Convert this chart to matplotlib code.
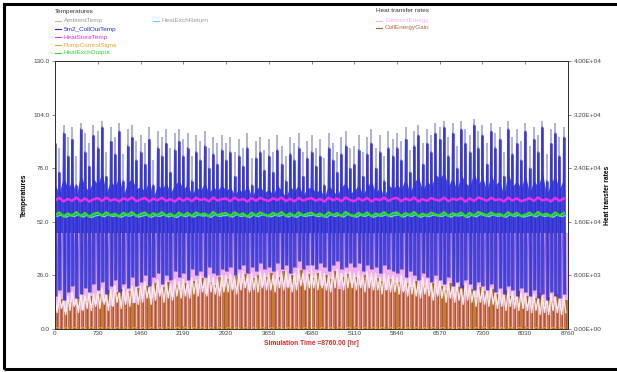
"""TRNSYS online plotter - annual solar water heater run"""
import numpy as np
import matplotlib
matplotlib.use("Agg")
import matplotlib.pyplot as plt
from matplotlib.lines import Line2D
from matplotlib.patches import Rectangle
from matplotlib.ticker import FuncFormatter

plt.rcParams["font.family"] = ["Liberation Sans", "DejaVu Sans"]

# one sample every 73 hours (120 samples over the year)
N_SAMPLES = 120
STEP_HR = 73.0

# 5m2_CollOutTemp: daily peaks (dark), light overshoot tops, night lows,
# and the top of the solid band while the pump runs [C]
coll_peak = [
    90, 76, 95, 84, 92, 70, 97, 86, 79, 94,
    88, 98, 74, 91, 85, 96, 72, 89, 93, 82,
    86, 80, 92, 70, 88, 84, 90, 76, 87, 91,
    84, 88, 72, 86, 82, 89, 78, 85, 80, 87,
    82, 86, 74, 84, 79, 88, 70, 83, 86, 77,
    84, 76, 87, 80, 72, 85, 82, 88, 74, 83,
    86, 79, 84, 70, 88, 82, 76, 85, 89, 78,
    80, 87, 74, 85, 90, 78, 86, 72, 88, 84,
    88, 82, 92, 76, 89, 94, 80, 90, 86, 95,
    92, 98, 84, 95, 78, 97, 90, 86, 99, 88,
    94, 80, 96, 88, 92, 74, 97, 85, 90, 82,
    96, 78, 92, 86, 98, 72, 90, 95, 84, 93,
]
coll_top = [
    97, 88, 99, 93, 98, 84, 100, 95, 90, 99,
    96, 101, 86, 98, 93, 100, 85, 97, 99, 91,
    94, 90, 98, 82, 96, 93, 97, 88, 95, 97,
    92, 95, 84, 94, 91, 96, 88, 93, 90, 94,
    90, 93, 86, 92, 88, 95, 83, 91, 93, 87,
    92, 86, 94, 89, 84, 93, 90, 95, 86, 91,
    94, 88, 92, 83, 95, 90, 86, 93, 96, 88,
    89, 94, 86, 93, 97, 88, 94, 84, 96, 92,
    95, 91, 98, 87, 96, 99, 90, 97, 94, 100,
    98, 101, 93, 100, 89, 101, 97, 94, 102, 96,
    99, 90, 100, 95, 98, 86, 101, 93, 97, 91,
    100, 89, 98, 94, 101, 85, 97, 100, 93, 98,
]
coll_low = [
    16, 19, 14, 18, 21, 15, 17, 20, 18, 22,
    19, 23, 17, 21, 24, 18, 22, 20, 25, 21,
    23, 26, 21, 25, 27, 22, 26, 24, 28, 25,
    27, 24, 29, 26, 28, 25, 30, 27, 26, 29,
    28, 30, 26, 29, 31, 27, 30, 28, 32, 29,
    30, 28, 32, 29, 31, 27, 30, 33, 29, 31,
    31, 29, 32, 30, 28, 31, 33, 29, 30, 32,
    30, 32, 28, 31, 29, 30, 27, 31, 29, 28,
    27, 29, 25, 28, 26, 24, 27, 25, 23, 26,
    24, 22, 25, 21, 23, 20, 24, 22, 19, 23,
    21, 19, 22, 18, 20, 17, 21, 19, 16, 20,
    18, 16, 19, 15, 17, 14, 18, 16, 15, 17,
]
coll_band_top = [
    70, 66, 74, 68, 72, 65, 75, 69, 67, 73,
    70, 76, 66, 72, 69, 74, 65, 71, 73, 68,
    69, 67, 72, 64, 70, 68, 71, 66, 70, 72,
    68, 70, 65, 69, 67, 71, 66, 69, 67, 70,
    67, 69, 65, 68, 66, 70, 64, 68, 69, 66,
    68, 65, 70, 67, 64, 69, 67, 70, 65, 68,
    69, 66, 68, 64, 70, 67, 65, 69, 71, 66,
    67, 70, 65, 69, 72, 66, 69, 64, 70, 68,
    70, 68, 73, 66, 71, 74, 67, 72, 69, 75,
    73, 76, 69, 74, 67, 75, 71, 69, 76, 70,
    74, 67, 75, 70, 72, 65, 76, 69, 72, 68,
    75, 66, 72, 69, 76, 65, 71, 74, 68, 73,
]

# AmbientTemp: daytime highs and night lows [C]
amb_high = [
    15, 17, 14, 16, 18, 15, 17, 16, 18, 17,
    18, 20, 17, 19, 21, 18, 20, 19, 21, 20,
    21, 23, 20, 22, 24, 21, 23, 22, 24, 23,
    24, 23, 25, 24, 26, 24, 26, 25, 24, 26,
    26, 27, 25, 27, 28, 26, 27, 26, 28, 27,
    27, 26, 28, 27, 28, 26, 27, 29, 27, 28,
    28, 27, 28, 27, 26, 28, 29, 27, 28, 28,
    27, 28, 26, 28, 27, 27, 25, 27, 26, 26,
    25, 26, 24, 25, 24, 23, 25, 24, 22, 24,
    23, 21, 23, 21, 22, 20, 22, 21, 19, 21,
    20, 19, 20, 18, 19, 17, 19, 18, 17, 18,
    17, 16, 17, 15, 16, 15, 17, 16, 15, 16,
]
amb_low = [
    8, 10, 7, 9, 11, 8, 9, 10, 9, 11,
    10, 12, 9, 11, 13, 10, 12, 11, 13, 12,
    13, 15, 12, 14, 16, 13, 15, 14, 16, 15,
    16, 15, 17, 16, 18, 16, 18, 17, 16, 18,
    18, 19, 17, 19, 20, 18, 19, 18, 20, 19,
    19, 18, 20, 19, 20, 18, 19, 21, 19, 20,
    20, 19, 20, 19, 18, 20, 21, 19, 20, 20,
    19, 20, 18, 20, 19, 19, 17, 19, 18, 18,
    17, 18, 16, 17, 16, 15, 17, 16, 14, 16,
    15, 13, 15, 13, 14, 12, 14, 13, 11, 13,
    12, 11, 12, 10, 11, 9, 11, 10, 9, 10,
    9, 8, 9, 7, 8, 7, 9, 8, 7, 8,
]

# HeatStoreTemp / HeatExchOutput / HeatExchReturn [C]
store_temp = [
    62.4, 63.6, 61.9, 63.1, 62.2, 63.8, 62.0, 63.3, 61.8, 62.9,
    63.5, 62.1, 63.7, 62.3, 63.0, 61.9, 63.4, 62.5, 63.8, 62.0,
    62.8, 63.6, 61.9, 63.2, 62.4, 63.7, 62.1, 63.0, 61.8, 63.5,
    62.2, 63.4, 62.0, 63.6, 62.6, 63.1, 61.9, 63.8, 62.3, 63.0,
    63.3, 62.0, 63.7, 62.4, 63.1, 61.8, 63.5, 62.2, 63.6, 62.7,
    62.1, 63.4, 62.5, 63.8, 62.0, 63.2, 61.9, 63.6, 62.3, 63.0,
    63.5, 62.2, 63.1, 61.8, 63.7, 62.4, 63.3, 62.0, 63.8, 62.6,
    62.0, 63.4, 62.3, 63.6, 61.9, 63.1, 62.5, 63.7, 62.1, 63.2,
    63.6, 62.0, 63.3, 62.4, 63.8, 61.9, 63.0, 62.2, 63.5, 62.7,
    62.3, 63.7, 62.0, 63.2, 62.6, 63.5, 61.8, 63.4, 62.1, 63.8,
    63.1, 62.2, 63.6, 62.5, 63.0, 61.9, 63.7, 62.3, 63.4, 62.0,
    62.6, 63.5, 62.1, 63.8, 62.4, 63.0, 61.9, 63.6, 62.2, 63.3,
]
hx_output = [
    55.2, 56.5, 54.6, 56.0, 55.0, 56.7, 54.8, 56.2, 54.5, 55.8,
    56.4, 54.9, 56.6, 55.1, 55.9, 54.6, 56.3, 55.3, 56.7, 54.8,
    55.7, 56.5, 54.7, 56.1, 55.2, 56.6, 54.9, 55.9, 54.5, 56.4,
    55.0, 56.3, 54.8, 56.5, 55.4, 56.0, 54.7, 56.7, 55.1, 55.9,
    56.2, 54.8, 56.6, 55.2, 56.0, 54.5, 56.4, 55.0, 56.5, 55.5,
    54.9, 56.3, 55.3, 56.7, 54.8, 56.1, 54.7, 56.5, 55.1, 55.9,
    56.4, 55.0, 56.0, 54.6, 56.6, 55.2, 56.2, 54.8, 56.7, 55.4,
    54.8, 56.3, 55.1, 56.5, 54.7, 56.0, 55.3, 56.6, 54.9, 56.1,
    56.5, 54.8, 56.2, 55.2, 56.7, 54.7, 55.9, 55.0, 56.4, 55.5,
    55.1, 56.6, 54.8, 56.1, 55.4, 56.4, 54.6, 56.3, 54.9, 56.7,
    56.0, 55.0, 56.5, 55.3, 55.9, 54.7, 56.6, 55.1, 56.3, 54.8,
    55.4, 56.4, 54.9, 56.7, 55.2, 55.9, 54.7, 56.5, 55.0, 56.2,
]
hx_return = [
    54.6, 55.4, 54.2, 55.1, 54.5, 55.6, 54.3, 55.2, 54.1, 54.9,
    55.3, 54.4, 55.5, 54.6, 55.0, 54.2, 55.2, 54.7, 55.6, 54.3,
    54.8, 55.4, 54.2, 55.1, 54.6, 55.5, 54.4, 55.0, 54.1, 55.3,
    54.5, 55.2, 54.3, 55.4, 54.8, 55.0, 54.2, 55.6, 54.6, 55.0,
    55.1, 54.3, 55.5, 54.6, 55.0, 54.1, 55.3, 54.5, 55.4, 54.9,
    54.4, 55.2, 54.7, 55.6, 54.3, 55.1, 54.2, 55.4, 54.6, 55.0,
    55.3, 54.5, 55.0, 54.1, 55.5, 54.6, 55.2, 54.3, 55.6, 54.8,
    54.3, 55.2, 54.6, 55.4, 54.2, 55.0, 54.7, 55.5, 54.4, 55.1,
    55.4, 54.3, 55.2, 54.6, 55.6, 54.2, 55.0, 54.5, 55.3, 54.9,
    54.6, 55.5, 54.3, 55.1, 54.8, 55.3, 54.1, 55.2, 54.4, 55.6,
    55.0, 54.5, 55.4, 54.7, 55.0, 54.2, 55.5, 54.6, 55.2, 54.3,
    54.8, 55.3, 54.4, 55.6, 54.6, 55.0, 54.2, 55.4, 54.5, 55.1,
]

# PumpControlSignal (0/1)
pump_signal = [1, 0] * 60

# ElementEnergy [kJ/hr] - heating element (4 kW) is on for almost every sample
element_energy = [14400] * 120

# CollEnergyGain daily peaks [kJ/hr]
coll_gain = [
    3200, 4500, 2600, 4000, 3600, 4800, 2900, 4200, 5000, 3800,
    5200, 4000, 5800, 3500, 5500, 6000, 4400, 5600, 3900, 6100,
    5000, 6400, 4600, 6800, 5400, 6200, 7000, 4800, 6600, 5800,
    6900, 5600, 7200, 6000, 7600, 5200, 7000, 6600, 7800, 6200,
    7400, 6000, 7900, 6800, 8200, 5800, 7600, 8000, 6400, 7800,
    8400, 6600, 7800, 8600, 6200, 8000, 7200, 8800, 6800, 8200,
    7600, 8400, 6400, 8000, 7400, 8600, 6000, 7800, 8200, 6800,
    7800, 6600, 8000, 7000, 6200, 7600, 7200, 5800, 7400, 6800,
    7000, 5600, 6800, 6200, 7200, 5400, 6600, 6000, 6800, 5200,
    6400, 5800, 6800, 5000, 6200, 6600, 5400, 6000, 4800, 6200,
    5600, 4600, 6000, 5200, 4200, 5800, 5000, 4400, 5600, 4000,
    5000, 3800, 4600, 5400, 3600, 4800, 4200, 5200, 3400, 4400,
]

x_ticks = list(range(0, 8761, 730))
temp_ticks = [0, 26, 52, 78, 104, 130]
rate_ticks = [0, 8000, 16000, 24000, 32000, 40000]
TEMP_MAX, RATE_MAX = 130, 40000

C_AMB = "#e8a892"
C_COLL = "#2a2ad4"
C_STORE = "#e830e8"
C_PUMP = "#f0a030"
C_HXO = "#30d830"
C_HXR = "#60d8d8"
C_ELEM = "#f2b0f2"
C_GAIN = "#c47a40"

t = np.arange(N_SAMPLES) * STEP_HR
t_half = t + STEP_HR / 2


def zigzag(hi, lo):
    """peak at sample start, low half a step later"""
    x = np.empty(2 * N_SAMPLES)
    y = np.empty(2 * N_SAMPLES)
    x[0::2], x[1::2] = t, t_half
    y[0::2], y[1::2] = hi, lo
    return x, y


fig = plt.figure(figsize=(6.17, 3.72), dpi=100)
ax = fig.add_axes([55 / 617, 1 - 329 / 372, 513 / 617, 268 / 372])
ax2 = ax.twinx()
ax.set_zorder(ax2.get_zorder() + 1)
ax.patch.set_visible(False)

# --- heat transfer rates (drawn underneath) ---
ax2.bar(t, element_energy, width=STEP_HR, align="edge", color=C_ELEM, linewidth=0)
ax2.bar(t + 0.1 * STEP_HR, coll_gain, width=0.8 * STEP_HR, align="edge",
        color=C_GAIN, linewidth=0)
ax2.vlines(t + 0.5 * STEP_HR, 0, coll_gain, color="#a84a22", lw=0.5)
ax2.set_ylim(0, RATE_MAX)

# --- temperatures ---
ax.step(t, pump_signal, where="post", color=C_PUMP, lw=0.6)
ax.plot(*zigzag(amb_high, amb_low), color="#fbeee8", lw=1.0)

# collector outlet: solid band while pumping sits right on top of the element bars
elem_as_temp = np.array(element_energy) * TEMP_MAX / RATE_MAX
ax.fill_between(t, elem_as_temp, coll_band_top, color=C_COLL, alpha=0.85, linewidth=0)
ax.vlines(t, coll_low, coll_top, color="#aeb2da", lw=1.4)
ax.vlines(t, coll_low, coll_peak, color=C_COLL, lw=2.0, alpha=0.8)
ax.plot(*zigzag(coll_peak, coll_low), color=C_COLL, lw=1.0, alpha=0.55)

ax.plot(t, store_temp, color=C_STORE, lw=1.8)
ax.plot(t_half, hx_return, color=C_HXR, lw=1.0)
ax.plot(t, hx_output, color=C_HXO, lw=1.8)
ax.set_xlim(0, 8760)
ax.set_ylim(0, TEMP_MAX)

ax.set_xticks(x_ticks)
ax.set_yticks(temp_ticks)
ax.yaxis.set_major_formatter(FuncFormatter(lambda v, p: f"{v:.1f}"))
ax2.set_yticks(rate_ticks)
ax2.yaxis.set_major_formatter(FuncFormatter(lambda v, p: f"{v:.2E}"))
for a in (ax, ax2):
    a.tick_params(labelsize=4.6, length=2.5, width=0.5, colors="#555555",
                  labelcolor="#444444", pad=1.5)
    for s in a.spines.values():
        s.set_linewidth(0.7)
        s.set_color("#333333")
ax.tick_params(axis="x", top=True, direction="in")

ax.set_ylabel("Temperatures", fontsize=4.8, fontweight="bold", labelpad=4)
ax2.set_ylabel("Heat transfer rates", fontsize=4.8, fontweight="bold", labelpad=2)
ax.set_xlabel("Simulation Time =8760.00 [hr]", fontsize=4.8, fontweight="bold",
              color="#e02828", labelpad=3)

# --- legends (plotter style, above the plot) ---
def legend_entry(x, y, color, label, text_color=None):
    fig.add_artist(Line2D([x / 617, (x + 6) / 617], [1 - y / 372] * 2,
                          color=color, lw=0.8, transform=fig.transFigure))
    fig.text((x + 9) / 617, 1 - y / 372, label, fontsize=4.6, va="center",
             color=text_color or color)


fig.text(55 / 617, 1 - 11 / 372, "Temperatures", fontsize=4.6, va="center", color="#333333")
legend_entry(55, 20.5, C_AMB, "AmbientTemp", "#9a9a9a")
legend_entry(55, 29, C_COLL, "5m2_CollOutTemp")
legend_entry(55, 37, C_STORE, "HeatStoreTemp")
legend_entry(55, 45, C_PUMP, "PumpControlSigna")
legend_entry(55, 52.5, C_HXO, "HeatExchOutput")
legend_entry(153, 20.5, C_HXR, "HeatExchReturn", "#9a9a9a")

fig.text(376 / 617, 1 - 11 / 372, "Heat transfer rates", fontsize=4.6, va="center", color="#333333")
legend_entry(376, 20.5, C_ELEM, "ElementEnergy")
legend_entry(376, 28, "#a8602c", "CollEnergyGain", "#b06838")

# outer frame of the plotter window
fig.add_artist(Rectangle((4 / 617, 3 / 372), 1.2, 1 - 7 / 372, fill=False,
                         lw=2.2, edgecolor="black", transform=fig.transFigure))

fig.savefig("out.png", dpi=100)
